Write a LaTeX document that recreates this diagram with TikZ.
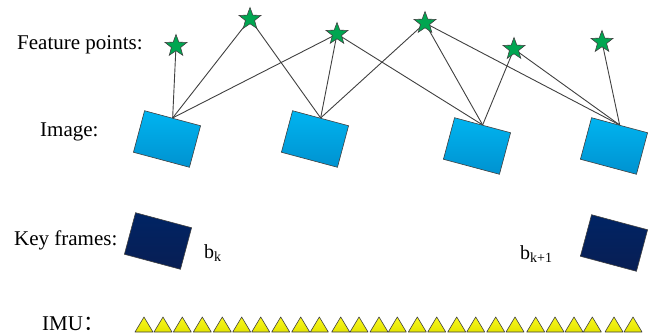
\documentclass[tikz,border=0pt]{standalone}
\usepackage{fontspec}
\setmainfont{Liberation Serif}
\newfontfamily\cjkfont{Noto Sans CJK SC}
\usetikzlibrary{shapes.geometric}

\definecolor{starfill}{RGB}{0,166,81}
\definecolor{edgegray}{RGB}{64,64,64}
\definecolor{imgtop}{RGB}{0,180,240}
\definecolor{imgbot}{RGB}{0,146,208}
\definecolor{kftop}{RGB}{0,36,100}
\definecolor{kfbot}{RGB}{8,30,84}
\definecolor{imutop}{RGB}{248,248,30}
\definecolor{imubot}{RGB}{228,228,0}

\pgfdeclarelayer{background}
\pgfsetlayers{background,main}

\begin{document}
\begin{tikzpicture}[x=1pt,y=-1pt,
  rowlabel/.style={anchor=base west, inner sep=0, font=\fontsize{21}{25}\selectfont},
  framelabel/.style={anchor=base west, inner sep=0, font=\fontsize{20}{24}\selectfont},
  feature/.style={star, star points=5, star point ratio=2.4, minimum size=23pt,
    inner sep=0, fill=starfill, draw=edgegray, line width=0.6pt},
  framebox/.style={rectangle, minimum width=58pt, minimum height=43pt, inner sep=0,
    rotate=-15, draw=edgegray, line width=0.6pt},
  imagebox/.style={framebox, top color=imgtop, bottom color=imgbot},
  keybox/.style={framebox, top color=kftop, bottom color=kfbot},
  link/.style={draw=edgegray, line width=0.9pt},
  imutick/.style={top color=imutop, bottom color=imubot, draw=edgegray,
    line width=0.6pt, line join=round}]

\useasboundingbox (0,0) rectangle (660,335);

% row labels
\node[rowlabel] (lfeat) at (17,49)  {Feature points:};
\node[rowlabel] (limg)  at (40,136) {Image:};
\node[rowlabel] (lkey)  at (14,245) {Key frames:};
\node[rowlabel] (limu)  at (42,330) {IMU{\cjkfont ：}};

% feature points
\node[feature] (s1) at (176,46) {};
\node[feature] (s2) at (250,19) {};
\node[feature] (s3) at (337,34) {};
\node[feature] (s4) at (425,23) {};
\node[feature] (s5) at (514,49) {};
\node[feature] (s6) at (602,42) {};

% images
\node[imagebox] (i1) at (167,139) {};
\node[imagebox] (i2) at (315,139) {};
\node[imagebox] (i3) at (477,146) {};
\node[imagebox] (i4) at (614,146) {};

% observations
\begin{pgfonlayer}{background}
  \foreach \img/\pt in {i1/s1, i1/s2, i1/s3,
                        i2/s2, i2/s3, i2/s4,
                        i3/s3, i3/s4, i3/s5,
                        i4/s4, i4/s5, i4/s6}
    \draw[link] (\img.north) -- (\pt.center);
\end{pgfonlayer}

% key frames
\node[keybox] (k1) at (158,241) {};
\node[keybox] (k2) at (614,243) {};
\node[framelabel] (bk)  at (204,258) {b\textsubscript{k}};
\node[framelabel] (bk1) at (520,259) {b\textsubscript{k+1}};

% IMU measurements
\foreach \x in {135,154,173.3,193.3,213.3,232.7,251.7,271.7,291.7,310.3,
                331.7,350,370,388.3,408.3,427.7,447.7,466.7,486.7,506,
                526.7,546,565,583.3,605,624}
  \shade[imutick] (\x,332) -- (\x+18,332) -- (\x+9,317) -- cycle;

\end{tikzpicture}
\end{document}
